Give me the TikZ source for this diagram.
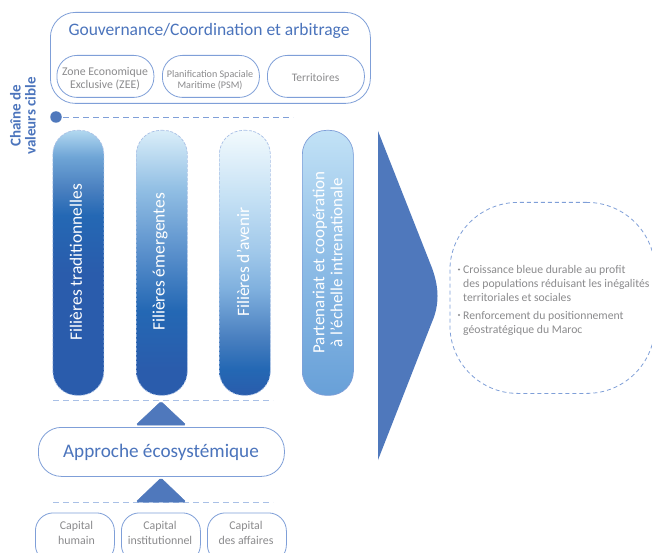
\documentclass[tikz,border=0pt]{standalone}
\usepackage{fontspec}
\setmainfont{Carlito}
\definecolor{edgeblue}{HTML}{7F9FD8}
\definecolor{dashblue}{HTML}{A9C0E6}
\definecolor{darkdash}{HTML}{7F9FD8}
\definecolor{solidblue}{HTML}{4F78BC}
\definecolor{titleblue}{HTML}{4B74BC}
\definecolor{greytxt}{HTML}{8B8B8D}
\definecolor{gA}{HTML}{2A5CAC}
\definecolor{gB}{HTML}{2468B4}
\definecolor{gC}{HTML}{4A80C0}
\definecolor{gD}{HTML}{B2D8F0}
\definecolor{gE}{HTML}{6FA5D6}
\definecolor{gF}{HTML}{92BFE4}
\definecolor{gG}{HTML}{DAEEF9}
\definecolor{gH}{HTML}{C4E0F4}
\definecolor{gI}{HTML}{F2FAFD}
\definecolor{gJ}{HTML}{68A0D8}
\definecolor{gK}{HTML}{8DBCE6}
\definecolor{gL}{HTML}{C2E2F6}
\definecolor{gM}{HTML}{5A90CC}
\definecolor{gN}{HTML}{A0C8EA}
\definecolor{gO}{HTML}{7FB0DE}
\pgfdeclareverticalshading{pillA}{100bp}{
 color(0bp)=(gA); color(25bp)=(gA); color(48bp)=(gA); color(59bp)=(gB);
 color(64bp)=(gC); color(70bp)=(gE); color(75bp)=(gD); color(100bp)=(gD)}
\pgfdeclareverticalshading{pillB}{100bp}{
 color(0bp)=(gA); color(25bp)=(gA); color(30bp)=(gA); color(41bp)=(gB);
 color(52bp)=(gM); color(64bp)=(gF); color(75bp)=(gG); color(100bp)=(gG)}
\pgfdeclareverticalshading{pillC}{100bp}{
 color(0bp)=(gA); color(25bp)=(gA); color(30bp)=(gB); color(36bp)=(gC);
 color(45bp)=(gO); color(52bp)=(gN); color(62bp)=(gH); color(75bp)=(gI); color(100bp)=(gI)}
\pgfdeclareverticalshading{pillD}{100bp}{
 color(0bp)=(gJ); color(25bp)=(gJ); color(50bp)=(gK); color(75bp)=(gL); color(100bp)=(gL)}
\tikzset{
 x=1pt,y=-1pt,
 softbox/.style={draw=edgeblue,line width=0.8pt,rounded corners=#1,inner sep=0pt,align=center,anchor=north west},
 pillbox/.style={rounded corners=24pt,inner sep=0pt,minimum width=51pt,minimum height=265pt,anchor=north west,line width=0.7pt},
 pilldash/.style={pillbox,draw=dashblue,dashed,dash pattern=on 3pt off 1.5pt},
 pilltext/.style={text=white,rotate=90,font=\fontsize{17.4}{18}\selectfont,align=center,inner sep=0pt},
 graytext/.style={text=greytxt,align=center,inner sep=0pt},
 dashrule/.style={draw=dashblue,line width=0.7pt,dash pattern=on 6pt off 4pt},
 upwedge/.style={fill=solidblue,draw=solidblue,line width=0.5pt,rounded corners=1.5pt},
 sidetext/.style={text=greytxt,font=\fontsize{11.7}{14}\selectfont,anchor=north west,inner sep=0pt,align=left},
 bulletmark/.style={circle,fill=greytxt,minimum size=2.2pt,inner sep=0pt},
}
\begin{document}
\begin{tikzpicture}
\useasboundingbox (0,0) rectangle (652,553);
\clip (0,0) rectangle (652,553);
\fill[white] (0,0) rectangle (652,553);
% governance
\node[softbox=25pt,minimum width=320pt,minimum height=91pt] (gov) at (50,12) {};
\node[text=titleblue,font=\fontsize{17.5}{18}\selectfont,inner sep=0pt] (govt) at (209,31) {Gouvernance/Coordination et arbitrage};
\node[softbox=20pt,minimum width=97pt,minimum height=42pt] (zee) at (56.5,55) {};
\node[graytext,font=\fontsize{11.8}{13}\selectfont] (zeet) at (105,78.5) {Zone Economique\\Exclusive (ZEE)};
\node[softbox=20pt,minimum width=97pt,minimum height=42pt] (psm) at (162,55) {};
\node[graytext,font=\fontsize{10.1}{10.4}\selectfont] (psmt) at (210,80) {Planification Spaciale\\Maritime (PSM)};
\node[softbox=20pt,minimum width=97pt,minimum height=42pt] (ter) at (267,55) {};
\node[graytext,font=\fontsize{11.5}{13}\selectfont] (tert) at (315.5,77.5) {Territoires};
% chaine
\node[rotate=90,text=titleblue,font=\bfseries\fontsize{15}{15}\selectfont,align=center,inner sep=0pt] (chaine) at (23,116) {Chaîne de\\valeurs cible};
\node[circle,fill=solidblue,minimum size=11.5pt,inner sep=0pt] (dot) at (56,117) {};
\coordinate (dotend) at (293,117);
\draw[dashrule,draw=darkdash] (dot) ++(7,0) -- (dotend);
% pills
\node[pilldash,shading=pillA] (p1) at (52.5,130) {};
\node[pilldash,shading=pillB] (p2) at (136,130) {};
\node[pilldash,shading=pillC] (p3) at (219,130) {};
\node[pillbox,draw=edgeblue,shading=pillD] (p4) at (302,130) {};
\node[pilltext] (p1t) at (76,262) {Filières traditionnelles};
\node[pilltext] (p2t) at (160,262) {Filières émergentes};
\node[pilltext] (p3t) at (243,262) {Filières d’avenir};
\node[pilltext,font=\fontsize{17}{18}\selectfont] (p4t) at (327.5,262.5) {Partenariat et coopération\\à l’échelle intrenationale};
% rule + wedge
\coordinate (r1a) at (53,400); \coordinate (r1b) at (273,400);
\draw[dashrule] (r1a) -- (r1b);
\coordinate (w1a) at (136,425); \coordinate (w1t) at (161,401.5); \coordinate (w1b) at (186,425);
\fill[upwedge] (w1a) -- (w1t) -- (w1b) -- cycle;
% approche
\node[softbox=23pt,minimum width=246pt,minimum height=49pt] (app) at (38,427) {};
\node[text=titleblue,font=\fontsize{19.2}{20}\selectfont,inner sep=0pt] (appt) at (161,452.5) {Approche écosystémique};
\coordinate (w2a) at (136,502); \coordinate (w2t) at (161,478); \coordinate (w2b) at (186,502);
\coordinate (r2a) at (53,502); \coordinate (r2b) at (273,502);
\draw[dashrule] (r2a) -- (r2b);
\fill[upwedge] (w2a) -- (w2t) -- (w2b) -- cycle;
% capital
\node[softbox=18pt,minimum width=79pt,minimum height=50pt] (c1) at (35,512.5) {};
\node[softbox=18pt,minimum width=79pt,minimum height=50pt] (c2) at (121,512.5) {};
\node[softbox=18pt,minimum width=79pt,minimum height=50pt] (c3) at (207,512.5) {};
\node[graytext,font=\fontsize{11.9}{15.6}\selectfont] (c1t) at (76.5,533) {Capital\\humain};
\node[graytext,font=\fontsize{11.9}{15.6}\selectfont] (c2t) at (160,533) {Capital\\institutionnel};
\node[graytext,font=\fontsize{11.9}{15.6}\selectfont] (c3t) at (246,533) {Capital\\des affaires};
% big arrow
\fill[solidblue] (378,131) -- (432,268) .. controls (436,279) and (437.5,288) .. (437.5,296)
 .. controls (437.5,304) and (436,313) .. (432,322) -- (378,460) -- cycle;
% blob
\node[softbox=68pt,draw=darkdash,dash pattern=on 4pt off 3pt,minimum width=205pt,minimum height=191pt] (blob) at (449.5,202) {};
% text
\node[sidetext] (t1) at (463,265) {Croissance bleue durable au profit\\des populations réduisant les inégalités\\territoriales et sociales};
\node[sidetext] (t2) at (463,311) {Renforcement du positionnement\\géostratégique du Maroc};
\node[bulletmark] (b1) at (459,269.5) {};
\node[bulletmark] (b2) at (459,315) {};
\end{tikzpicture}
\end{document}
